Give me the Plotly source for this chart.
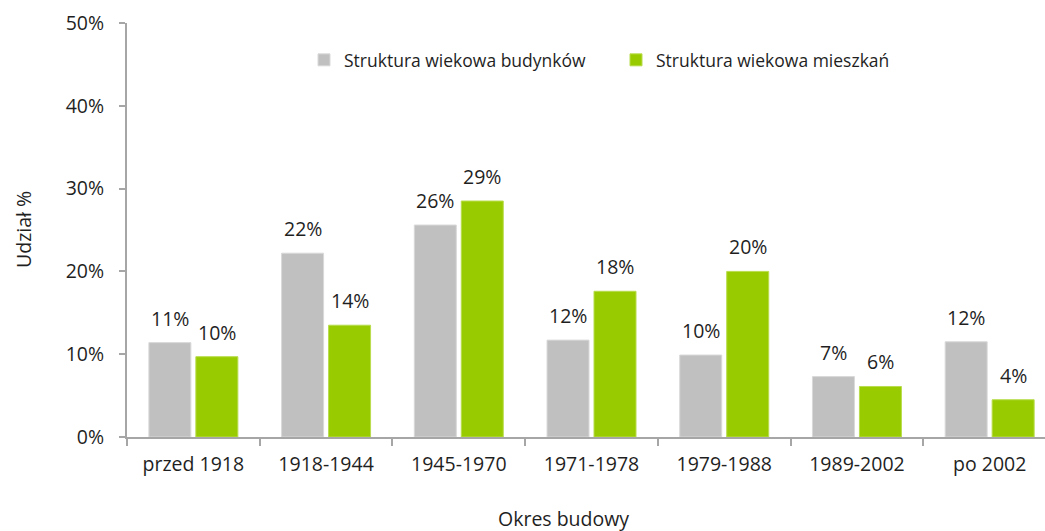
import plotly.graph_objects as go

categories = ["przed 1918", "1918-1944", "1945-1970", "1971-1978", "1979-1988", "1989-2002", "po 2002"]
budynki = [11.4, 22.2, 25.6, 11.7, 9.9, 7.3, 11.5]
mieszkania = [9.7, 13.5, 28.5, 17.6, 20.0, 6.1, 4.5]
budynki_labels = ["11%", "22%", "26%", "12%", "10%", "7%", "12%"]
mieszkania_labels = ["10%", "14%", "29%", "18%", "20%", "6%", "4%"]
y_ticks = [0, 10, 20, 30, 40, 50]
y_tick_labels = ["0%", "10%", "20%", "30%", "40%", "50%"]

FONT = "Open Sans"
TXT = "#1f1f1f"
AX = "#a6a6a6"
FS = 19.5

W, H = 1045, 531
L, T = 127, 23
B = 531 - 437.5
PLOT_W = W - L
PLOT_H = H - T - B

fig = go.Figure()
fig.add_trace(go.Bar(
    x=categories, y=budynki, name="Struktura wiekowa budynków",
    marker=dict(color="#c0c0c0", line=dict(color="#d9d9d9", width=1)),
))
fig.add_trace(go.Bar(
    x=categories, y=mieszkania, name="Struktura wiekowa mieszkań",
    marker=dict(color="#99cc00", line=dict(color="#b8dc4d", width=1)),
))

annotations = []
for series, labels, dx in ((budynki, budynki_labels, -23.5), (mieszkania, mieszkania_labels, 23.5)):
    for c, v, lab in zip(categories, series, labels):
        annotations.append(dict(
            x=c, y=v, xref="x", yref="y", text=lab, showarrow=False,
            xanchor="center", yanchor="bottom", xshift=dx, yshift=9,
            font=dict(family=FONT, size=FS, color=TXT),
        ))

annotations.append(dict(
    text="Udział %", x=(23 - L) / PLOT_W, y=0.5, xref="paper", yref="paper", showarrow=False,
    textangle=-90, font=dict(family=FONT, size=FS, color=TXT),
    xanchor="center", yanchor="middle"))
annotations.append(dict(
    text="Okres budowy", x=(563 - L) / PLOT_W, y=-(519 - 437.5) / PLOT_H,
    xref="paper", yref="paper", showarrow=False,
    font=dict(family=FONT, size=FS, color=TXT), xanchor="center", yanchor="middle"))

fig.update_layout(
    width=W, height=H,
    margin=dict(l=L, r=0, t=T, b=B, pad=0),
    paper_bgcolor="white", plot_bgcolor="white",
    font=dict(family=FONT, size=FS, color=TXT),
    barmode="group", bargap=0.292, bargroupgap=0.106,
    showlegend=True,
    legend=dict(orientation="h", x=(318 - 14 - L) / PLOT_W, y=(437.5 - 60) / PLOT_H,
                xanchor="left", yanchor="middle",
                font=dict(family=FONT, size=17.5, color=TXT),
                bgcolor="rgba(0,0,0,0)", entrywidth=267, entrywidthmode="pixels",
                traceorder="normal"),
    xaxis=dict(
        type="category", range=[-0.5, 6.417],
        showline=True, linecolor=AX, linewidth=2,
        ticks="outside", tickson="boundaries", ticklen=7, tickwidth=2, tickcolor=AX,
        showgrid=False, zeroline=False, ticklabelstandoff=9,
        tickfont=dict(family=FONT, size=FS, color=TXT),
    ),
    yaxis=dict(
        range=[0, 50], tickvals=y_ticks, ticktext=y_tick_labels,
        showline=True, linecolor=AX, linewidth=2,
        ticks="outside", ticklen=6, tickwidth=2, tickcolor=AX,
        showgrid=False, zeroline=False, ticklabelstandoff=11,
        tickfont=dict(family=FONT, size=FS, color=TXT),
    ),
    annotations=annotations,
)

fig.write_html("out.html", config={"displayModeBar": False},
               post_script="document.body.style.margin='0';")
